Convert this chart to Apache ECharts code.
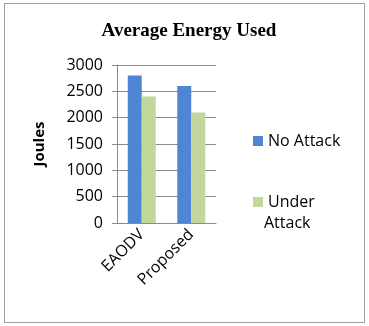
<!DOCTYPE html>
<html>
<head>
<meta charset="utf-8">
<script src="https://cdn.jsdelivr.net/npm/echarts@6/dist/echarts.min.js"></script>
<style>
  body { margin: 0; background: #fff; }
  #chart { width: 369px; height: 326px; position: relative; }
  #frame { position: absolute; left: 4px; top: 3px; width: 359px; height: 318px; border: 1px solid #a0a0a0; pointer-events: none; }
</style>
</head>
<body>
<div id="chart"></div>
<div id="frame"></div>
<script>
var categories = ['EAODV', 'Proposed'];
var noAttack = [2800, 2600];
var underAttack = [2400, 2100];
var yTicks = [0, 500, 1000, 1500, 2000, 2500, 3000];

var myChart = echarts.init(document.getElementById('chart'));
var font = 'Open Sans';
var option = {
    animation: false,
    title: {
        text: 'Average Energy Used',
        left: 184,
        top: 17,
        textAlign: 'center',
        textStyle: { fontFamily: 'Liberation Serif', fontWeight: 'bold', fontSize: 19, color: '#000' }
    },
    legend: [
        {
            data: ['No Attack'],
            left: 248, top: 128,
            icon: 'rect', itemWidth: 10, itemHeight: 10, itemGap: 6,
            textStyle: { fontFamily: font, fontSize: 16, color: '#000' }
        },
        {
            data: ['Under Attack'],
            left: 248, top: 189,
            icon: 'rect', itemWidth: 10, itemHeight: 10, itemGap: 6,
            formatter: function () { return 'Under'; },
            textStyle: { fontFamily: font, fontSize: 16, color: '#000' }
        }
    ],
    graphic: [{
        type: 'text', left: 264, top: 215,
        style: { text: 'Attack', fontFamily: font, fontSize: 16, fill: '#000' }
    }],
    grid: { left: 117, right: 153, top: 65, bottom: 103 },
    xAxis: {
        type: 'category',
        data: categories,
        axisLine: { lineStyle: { color: '#8c8c8c', width: 1 } },
        axisTick: { show: false },
        axisLabel: { rotate: 45, fontFamily: font, fontSize: 16, color: '#000', margin: 9 }
    },
    yAxis: {
        type: 'value',
        min: yTicks[0],
        max: yTicks[yTicks.length - 1],
        interval: 500,
        name: 'Joules',
        nameLocation: 'middle',
        nameGap: 70,
        nameTextStyle: { fontFamily: font, fontWeight: 'bold', fontSize: 15, color: '#000' },
        axisLine: { show: true, lineStyle: { color: '#8c8c8c', width: 1 } },
        axisTick: { show: true, length: 5, lineStyle: { color: '#8c8c8c' } },
        splitLine: { lineStyle: { color: '#8c8c8c', width: 1 } },
        axisLabel: { fontFamily: font, fontSize: 16, color: '#000', margin: 14, formatter: function (v) { return String(v); } }
    },
    series: [
        {
            name: 'No Attack', type: 'bar', data: noAttack,
            barWidth: 14, barGap: '0%',
            itemStyle: { color: '#4F86D4' }
        },
        {
            name: 'Under Attack', type: 'bar', data: underAttack,
            barWidth: 14, barGap: '0%',
            itemStyle: { color: '#C3D69B' }
        }
    ]
};
myChart.setOption(option);
</script>
</body>
</html>
